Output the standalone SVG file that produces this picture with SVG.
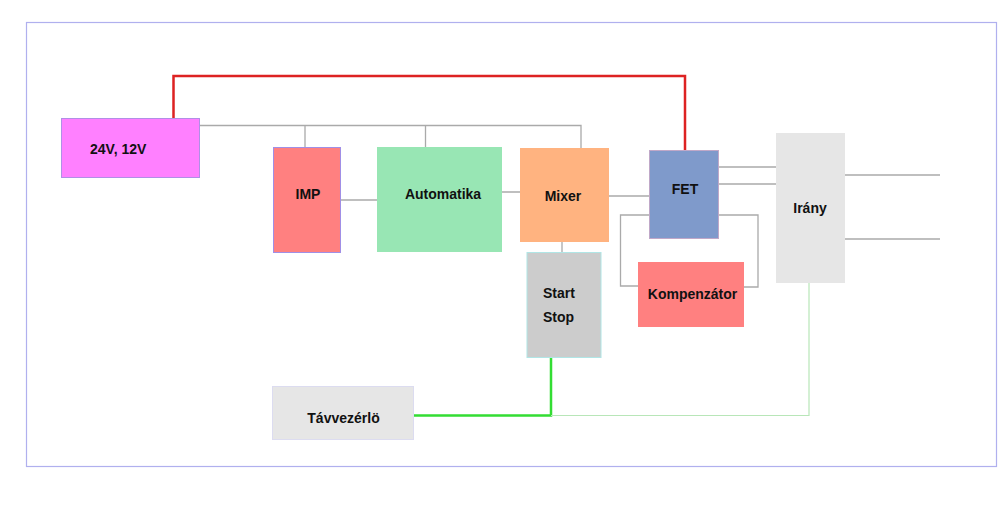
<svg xmlns="http://www.w3.org/2000/svg" width="1000" height="515" viewBox="0 0 1000 515">
<style>
text{font-family:"Liberation Sans",Arial,sans-serif;font-size:14px;font-weight:bold;fill:#111}
.w{fill:none;stroke:#aaaaaa;stroke-width:1.3}
.c{text-anchor:middle}
</style>
<rect x="0" y="0" width="1000" height="515" fill="#ffffff"/>
<rect x="26.5" y="22.5" width="970" height="444" fill="none" stroke="#b0b0ee" stroke-width="1.2"/>
<g id="connectors">
<path class="w" d="M200 125.5H581V148M305 125.5V147M425.5 125.5V147"/>
<path class="w" d="M341 200H377M502 192H520M609 196H649M719 167H776M719 184H776M845 175H940M845 239H940M562 242V252"/>
<path class="w" d="M649 215H620.5V286H638M719 215H758V287H744"/>
<path d="M173.5 118V76H685V150" fill="none" stroke="#dd2222" stroke-width="2.5"/>
<path d="M413 415.5H551V358" fill="none" stroke="#33dd33" stroke-width="2.5"/>
<path d="M551 415.5H809V283" fill="none" stroke="#b8e6b8" stroke-width="1.2"/>
</g>
<g id="power"><rect x="61.5" y="118.5" width="138" height="59" fill="#ff80ff" stroke="#b08fe6"/><text x="90" y="154">24V, 12V</text></g>
<g id="imp"><rect x="273.5" y="147.5" width="67" height="105" fill="#ff8080" stroke="#a08fe6"/><text class="c" x="308" y="199">IMP</text></g>
<g id="automatika"><rect x="377" y="147" width="125" height="105" fill="#98e6b4"/><text class="c" x="443" y="199">Automatika</text></g>
<g id="mixer"><rect x="520" y="148" width="89" height="94" fill="#ffb380"/><text class="c" x="563" y="200.5">Mixer</text></g>
<g id="fet"><rect x="649.5" y="150.5" width="69" height="88" fill="#7f9acb" stroke="#c0a8c8"/><text class="c" x="685" y="194">FET</text></g>
<g id="irany"><rect x="776" y="133" width="69" height="150" fill="#e6e6e6"/><text class="c" x="810" y="213">Irány</text></g>
<g id="kompenzator"><rect x="638" y="262" width="106" height="65" fill="#ff8080"/><text class="c" x="692.5" y="299">Kompenzátor</text></g>
<g id="startstop"><rect x="527" y="252.5" width="74" height="105" fill="#cccccc" stroke="#b0e6e6"/><text x="543" y="298">Start</text><text x="543" y="322">Stop</text></g>
<g id="tavvezerlo"><rect x="272.5" y="386.5" width="141" height="53" fill="#e6e6e6" stroke="#dcdcf0"/><text class="c" x="343.5" y="422.5">Távvezérlö</text></g>
</svg>
